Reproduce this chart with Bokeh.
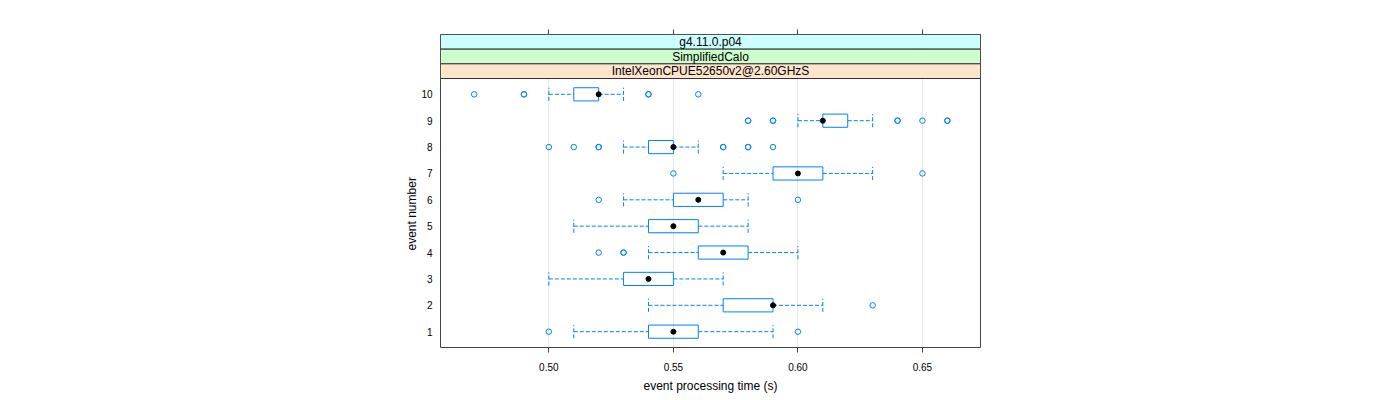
from bokeh.plotting import figure
from bokeh.models import Range1d, LinearAxis, FixedTicker, Label, ColumnDataSource, Title
from bokeh.embed import file_html
from bokeh.resources import INLINE

# ---- data ----
events = [1, 2, 3, 4, 5, 6, 7, 8, 9, 10]
whisker_low = [0.51, 0.54, 0.50, 0.54, 0.51, 0.53, 0.57, 0.53, 0.60, 0.50]
q1 = [0.54, 0.57, 0.53, 0.56, 0.54, 0.55, 0.59, 0.54, 0.61, 0.51]
median = [0.55, 0.59, 0.54, 0.57, 0.55, 0.56, 0.60, 0.55, 0.61, 0.52]
q3 = [0.56, 0.59, 0.55, 0.58, 0.56, 0.57, 0.61, 0.55, 0.62, 0.52]
whisker_high = [0.59, 0.61, 0.57, 0.60, 0.58, 0.58, 0.63, 0.56, 0.63, 0.53]

outlier_event = [1, 1,
                 2,
                 4, 4, 4,
                 6, 6,
                 7, 7,
                 8, 8, 8, 8, 8, 8, 8, 8, 8,
                 9, 9, 9, 9, 9, 9, 9, 9, 9,
                 10, 10, 10, 10, 10, 10]
outlier_value = [0.50, 0.60,
                 0.63,
                 0.52, 0.53, 0.53,
                 0.52, 0.60,
                 0.55, 0.65,
                 0.50, 0.51, 0.52, 0.52, 0.57, 0.57, 0.58, 0.58, 0.59,
                 0.58, 0.58, 0.59, 0.59, 0.64, 0.64, 0.65, 0.66, 0.66,
                 0.47, 0.49, 0.49, 0.54, 0.54, 0.56]

x_ticks = [0.50, 0.55, 0.60, 0.65]
y_ticks = [1, 2, 3, 4, 5, 6, 7, 8, 9, 10]
strip_labels = ["g4.11.0.p04", "SimplifiedCalo", "IntelXeonCPUE52650v2@2.60GHzS"]
strip_colors = ["#CCFFFF", "#CCFFCC", "#FFE5CC"]
x_title = "event processing time (s)"
y_title = "event number"

# ---- layout ----
W, H = 1384, 398
FL, FR, FT, FB = 440, 980, 34, 347   # frame edges in canvas px
X0, X1 = 0.4565, 0.6733
Y0, YP = 0.4, 10.6
px_per_y = (FB - 44 - FT) / (YP - Y0)
strip_h = (44 / 3) / px_per_y
Y1 = YP + 3 * strip_h

p = figure(width=W, height=H, output_backend="svg", toolbar_location=None,
           x_range=Range1d(X0, X1), y_range=Range1d(Y0, Y1),
           min_border_left=FL, min_border_right=W - FR,
           min_border_top=FT, min_border_bottom=H - FB,
           x_axis_location="below", y_axis_location="left")
p.background_fill_color = "white"
p.border_fill_color = "white"
p.outline_line_color = "#444444"
p.outline_line_width = 1

FONT = "Liberation Sans"

# bottom axis
xa = p.xaxis[0]
xa.ticker = FixedTicker(ticks=x_ticks)
xa.major_label_overrides = {t: f"{t:.2f}" for t in x_ticks}
xa.axis_line_color = None
xa.major_tick_out = 5
xa.major_tick_in = 0
xa.minor_tick_out = 0
xa.minor_tick_in = 0
xa.major_tick_line_color = "#444444"
xa.major_label_text_font = FONT
xa.major_label_text_font_size = "10px"
xa.major_label_text_color = "black"
xa.major_label_standoff = 10
xa.axis_label = x_title
xa.axis_label_text_font = FONT
xa.axis_label_text_font_size = "12px"
xa.axis_label_text_font_style = "normal"
xa.axis_label_text_color = "black"
xa.axis_label_standoff = 5

# left axis
ya = p.yaxis[0]
ya.ticker = FixedTicker(ticks=y_ticks)
ya.axis_line_color = None
ya.major_tick_out = 0
ya.major_tick_in = 0
ya.minor_tick_out = 0
ya.minor_tick_in = 0
ya.major_label_text_font = FONT
ya.major_label_text_font_size = "10px"
ya.major_label_text_color = "black"
ya.major_label_standoff = 8

# y title placed on the panel part (below the strips)
p.add_layout(Title(text=y_title, align="left", offset=97, text_font=FONT,
                   text_font_size="12px", text_font_style="normal",
                   text_color="black", standoff=0), "left")

# top axis (ticks only)
ta = LinearAxis(ticker=FixedTicker(ticks=x_ticks))
ta.axis_line_color = None
ta.major_tick_out = 5
ta.major_tick_in = 0
ta.minor_tick_out = 0
ta.minor_tick_in = 0
ta.major_tick_line_color = "#444444"
ta.major_label_overrides = {t: "" for t in x_ticks}
p.add_layout(ta, "above")

# grid
p.xgrid.ticker = FixedTicker(ticks=x_ticks)
p.xgrid.grid_line_color = "#e6e6e6"
p.ygrid.grid_line_color = None

# strips
for i, (lab, col) in enumerate(zip(strip_labels, strip_colors)):
    top = Y1 - i * strip_h
    bot = top - strip_h
    p.quad(left=[X0], right=[X1], bottom=[bot], top=[top],
           fill_color=col, line_color="#333333", line_width=1)
    p.add_layout(Label(x=(X0 + X1) / 2, y=(top + bot) / 2, text=lab,
                       text_align="center", text_baseline="middle",
                       text_font=FONT, text_font_size="12px", text_color="black"))

# boxes
src = ColumnDataSource(dict(ev=events, wlo=whisker_low, q1=q1, med=median,
                            q3=q3, whi=whisker_high,
                            bot=[e - 0.25 for e in events],
                            top=[e + 0.25 for e in events]))
BLUE = "#0080ff"
p.segment(x0="wlo", y0="ev", x1="q1", y1="ev", source=src,
          line_color=BLUE, line_dash="4 2", line_width=1)
p.segment(x0="q3", y0="ev", x1="whi", y1="ev", source=src,
          line_color=BLUE, line_dash="4 2", line_width=1)
p.segment(x0="wlo", y0="bot", x1="wlo", y1="top", source=src,
          line_color=BLUE, line_dash="4 2", line_width=1)
p.segment(x0="whi", y0="bot", x1="whi", y1="top", source=src,
          line_color=BLUE, line_dash="4 2", line_width=1)
p.quad(left="q1", right="q3", bottom="bot", top="top", source=src,
       fill_color=None, line_color=BLUE, line_width=1)
p.scatter(x="med", y="ev", source=src, size=5, marker="circle",
          fill_color="black", line_color="black")

# outliers
p.scatter(x=outlier_value, y=outlier_event, size=5.5, marker="circle",
          fill_color=None, line_color=BLUE, line_width=1)

open("out.html", "w").write(file_html(p, INLINE))
